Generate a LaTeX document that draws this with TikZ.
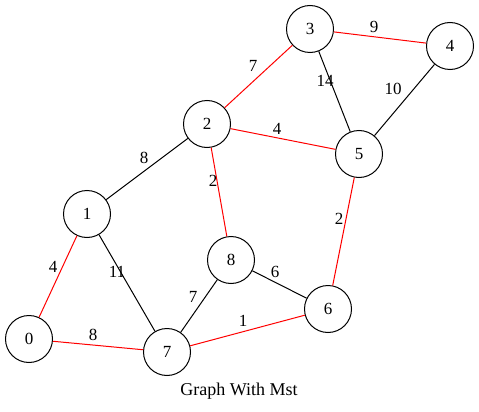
\documentclass[tikz,border=0pt]{standalone}
\usepackage{fontspec}
\setmainfont{Liberation Serif}
\begin{document}
\begin{tikzpicture}[x=1pt,y=-1pt,
  vtx/.style={circle,draw=black,line width=1pt,minimum size=47pt,inner sep=0pt,font=\fontsize{17}{17}\selectfont},
  wlbl/.style={inner sep=0pt,font=\fontsize{17}{17}\selectfont},
  mst/.style={draw=red,line width=1pt},
  oth/.style={draw=black,line width=1pt}]
\useasboundingbox (0,0) rectangle (479,412);
\node[vtx] (n0) at (29,339) {0};
\node[vtx] (n1) at (87,214) {1};
\node[vtx] (n2) at (207,124) {2};
\node[vtx] (n3) at (310,29) {3};
\node[vtx] (n4) at (450,46) {4};
\node[vtx] (n5) at (359,154) {5};
\node[vtx] (n6) at (328,309) {6};
\node[vtx] (n7) at (167,352) {7};
\node[vtx] (n8) at (231,260) {8};
\path[mst] (n0) -- (n1);
\path[mst] (n0) -- (n7);
\path[oth] (n1) -- (n2);
\path[oth] (n1) -- (n7);
\path[mst] (n2) -- (n3);
\path[mst] (n2) -- (n5);
\path[mst] (n2) -- (n8);
\path[mst] (n3) -- (n4);
\path[oth] (n3) -- (n5);
\path[oth] (n4) -- (n5);
\path[mst] (n5) -- (n6);
\path[mst] (n6) -- (n7);
\path[oth] (n8) -- (n6);
\path[oth] (n8) -- (n7);
\node[wlbl] (l01) at (53,267) {4};
\node[wlbl] (l07) at (93,335) {8};
\node[wlbl] (l12) at (144,158) {8};
\node[wlbl] (l17) at (117,272) {11};
\node[wlbl] (l23) at (253,66) {7};
\node[wlbl] (l25) at (277,129) {4};
\node[wlbl] (l28) at (213,181) {2};
\node[wlbl] (l34) at (374,27) {9};
\node[wlbl] (l35) at (325,81) {14};
\node[wlbl] (l45) at (393,89) {10};
\node[wlbl] (l56) at (339,219) {2};
\node[wlbl] (l67) at (243,321) {1};
\node[wlbl] (l86) at (275,272) {6};
\node[wlbl] (l87) at (193,297) {7};
\node[font=\fontsize{18}{18}\selectfont,inner sep=0pt] (title) at (239,391) {Graph With Mst};
\end{tikzpicture}
\end{document}
